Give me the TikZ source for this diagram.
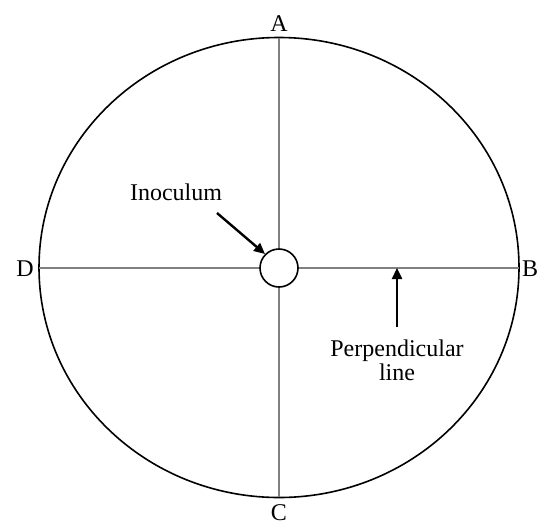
\documentclass[tikz,border=0pt]{standalone}
\usepackage{fontspec}
\setmainfont{Liberation Serif}
\usetikzlibrary{arrows.meta,shapes.geometric}
\begin{document}
\begin{tikzpicture}[x=1pt,y=-1pt,
  lbl/.style={font=\fontsize{24}{24}\selectfont, inner sep=0pt},
  axis/.style={draw=black!50, line width=1.1pt},
  pointer/.style={draw=black, line width=2.4pt, -{Triangle[length=11pt,width=10pt]}}]
\useasboundingbox (0,0) rectangle (538,523);
\coordinate (O) at (279,268);
\node[draw=black, line width=1.6pt, ellipse, minimum width=480pt, minimum height=460pt, inner sep=0pt] (dish) at (279,267.5) {};
\coordinate (top) at (279,38);
\coordinate (bot) at (279,497);
\coordinate (lft) at (39,268);
\coordinate (rgt) at (519,268);
\draw[axis] (top) -- (bot);
\draw[axis] (lft) -- (rgt);
\node[draw=black, line width=1.6pt, fill=white, circle, minimum size=38pt, inner sep=0pt] (ino) at (O) {};
\node[lbl] (A) at (279,24) {A};
\node[lbl] (C) at (279,513) {C};
\node[lbl] (D) at (25,269) {D};
\node[lbl] (B) at (530,269) {B};
\node[lbl] (inoc) at (176,192) {Inoculum};
\coordinate (inoS) at (217,213);
\draw[pointer] (inoS) -- (ino.north west);
\node[lbl, align=center] (perp) at (397,360) {Perpendicular\\line};
\coordinate (perpS) at (397,327);
\coordinate (perpE) at (397,268);
\draw[pointer] (perpS) -- (perpE);
\end{tikzpicture}
\end{document}
